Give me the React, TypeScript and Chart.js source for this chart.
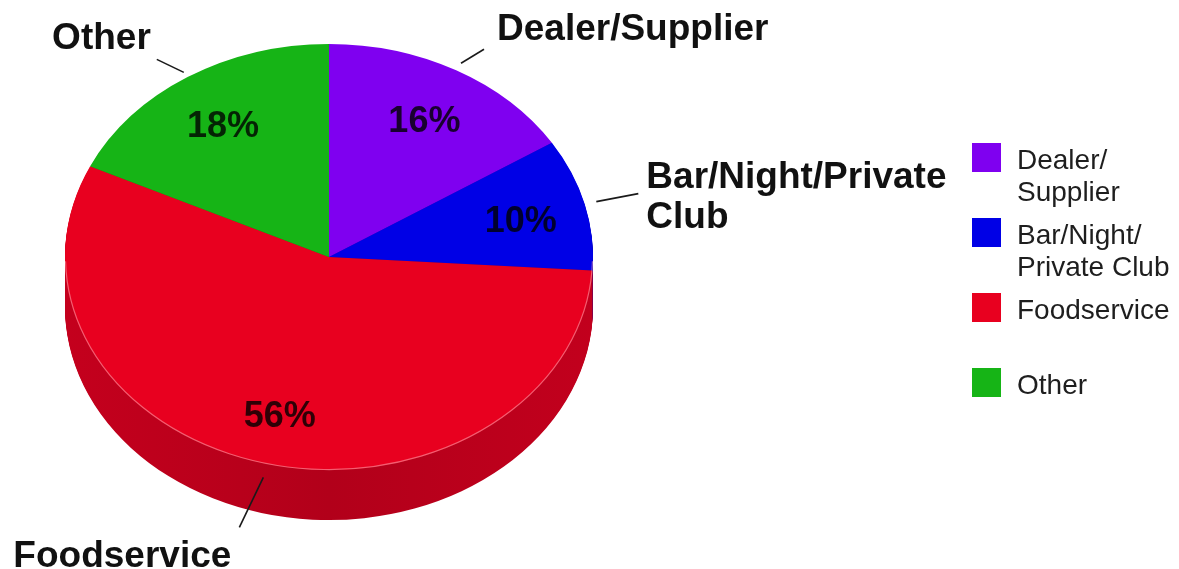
import React, { useEffect, useRef } from "react";
import { Chart, registerables } from "chart.js";

Chart.register(...registerables);

// ---------- data ----------
const categories = ["Dealer/Supplier", "Bar/Night/Private Club", "Foodservice", "Other"];
const shares = [16, 10, 56, 18];
const calloutLabels: string[][] = [["Dealer/Supplier"], ["Bar/Night/Private", "Club"], ["Foodservice"], ["Other"]];
const legendLabels: string[][] = [["Dealer/", "Supplier"], ["Bar/Night/", "Private Club"], ["Foodservice"], ["Other"]];

// ---------- style ----------
const sliceColors = ["#7f00f0", "#0000e6", "#e8001f", "#16b416"];
const sideColors = ["#5c00b0", "#0000a6", "#bc001b", "#0f8a0f"];
const FONT = '"Liberation Sans", Arial, Helvetica, sans-serif';
const TILT = { ratio: 0.807, centerY: 257, depth: 50 };
// leader line / callout placement per slice (style only)
const callouts = [
  { gap: 10, dx: 23, dy: -14, tx: 13, ty: -9, align: "left" as CanvasTextAlign },
  { gap: 12, dx: 42, dy: -8, tx: 8, ty: -6, align: "left" as CanvasTextAlign },
  { gap: 0, dx: -24, dy: 50, tx: -8, ty: 40, align: "right" as CanvasTextAlign, front: 14 },
  { gap: 7, dx: -27, dy: -13, tx: -6, ty: -10, align: "right" as CanvasTextAlign },
];
const LEGEND = { x: 972, top: 143, box: 29, slot: 75, textX: 1017, base: 26, line: 32 };

function tilt(ctx: CanvasRenderingContext2D, cy0: number, extra = 0) {
  ctx.translate(0, TILT.centerY + extra);
  ctx.scale(1, TILT.ratio);
  ctx.translate(0, -cy0);
}

function slicePath(ctx: CanvasRenderingContext2D, el: any) {
  ctx.beginPath();
  ctx.moveTo(el.x, el.y);
  ctx.arc(el.x, el.y, el.outerRadius, el.startAngle, el.endAngle);
  ctx.closePath();
}

function toScreen(el: any, angle: number, r: number, cy = TILT.centerY) {
  return {
    x: el.x + r * Math.cos(angle),
    y: cy + r * Math.sin(angle) * TILT.ratio,
  };
}

const pie3d = {
  id: "pie3d",
  beforeDatasetsDraw(chart: any) {
    const ctx: CanvasRenderingContext2D = chart.ctx;
    const meta = chart.getDatasetMeta(0);
    const els = meta.data;
    if (!els.length) return;
    const cy0 = els[0].y;
    const R = els[0].outerRadius;
    const cx = els[0].x;
    // extruded side
    for (let off = TILT.depth; off >= 1; off--) {
      els.forEach((el: any, i: number) => {
        ctx.save();
        tilt(ctx, cy0, off);
        slicePath(ctx, el);
        if (i === 2) {
          const g = ctx.createLinearGradient(cx - R, 0, cx + R, 0);
          g.addColorStop(0, "#c4001d");
          g.addColorStop(0.5, "#b2001a");
          g.addColorStop(1, "#c2001d");
          ctx.fillStyle = g;
        } else {
          ctx.fillStyle = sideColors[i];
        }
        ctx.fill();
        ctx.restore();
      });
    }
    ctx.save();
    tilt(ctx, cy0);
  },
  afterDatasetsDraw(chart: any) {
    const ctx: CanvasRenderingContext2D = chart.ctx;
    ctx.restore();
    const meta = chart.getDatasetMeta(0);
    const els = meta.data;
    if (!els.length) return;
    const R = els[0].outerRadius;
    const cx = els[0].x;

    // rim highlight
    ctx.save();
    ctx.beginPath();
    ctx.ellipse(cx, TILT.centerY, R - 0.5, R * TILT.ratio - 0.5, 0, 0.02, Math.PI - 0.02);
    ctx.strokeStyle = "rgba(255,170,180,0.55)";
    ctx.lineWidth = 1.2;
    ctx.stroke();
    ctx.restore();

    els.forEach((el: any, i: number) => {
      const mid = (el.startAngle + el.endAngle) / 2;
      // percentage label (centered on cap height)
      const p = toScreen(el, mid, R * 0.75, TILT.centerY + 2);
      ctx.save();
      ctx.font = `bold 36px ${FONT}`;
      ctx.fillStyle = "rgba(0,0,0,0.8)";
      ctx.textAlign = "center";
      ctx.textBaseline = "alphabetic";
      ctx.fillText(`${shares[i]}%`, p.x, p.y + 13);
      ctx.restore();

      // leader line + callout
      const c = callouts[i];
      const s = toScreen(el, mid, R + c.gap);
      s.y += (c as any).front || 0;
      const e = { x: s.x + c.dx, y: s.y + c.dy };
      ctx.save();
      ctx.beginPath();
      ctx.moveTo(s.x, s.y);
      ctx.lineTo(e.x, e.y);
      ctx.strokeStyle = "#1a1a1a";
      ctx.lineWidth = 1.6;
      ctx.stroke();
      ctx.font = `bold 37px ${FONT}`;
      ctx.fillStyle = "#111";
      ctx.textAlign = c.align;
      ctx.textBaseline = "alphabetic";
      calloutLabels[i].forEach((line, j) => {
        ctx.fillText(line, e.x + c.tx, e.y + c.ty + j * 40);
      });
      ctx.restore();
    });

    // legend
    ctx.save();
    ctx.font = `28px ${FONT}`;
    ctx.textAlign = "left";
    ctx.textBaseline = "alphabetic";
    legendLabels.forEach((lines, i) => {
      const top = LEGEND.top + i * LEGEND.slot;
      ctx.fillStyle = sliceColors[i];
      ctx.fillRect(LEGEND.x, top, LEGEND.box, LEGEND.box);
      ctx.fillStyle = "#1e1e1e";
      lines.forEach((t, j) => ctx.fillText(t, LEGEND.textX, top + LEGEND.base + j * LEGEND.line));
    });
    ctx.restore();
  },
};

export default function App() {
  const ref = useRef<HTMLCanvasElement | null>(null);
  useEffect(() => {
    document.body.style.margin = "0";
    const canvas = ref.current!;
    const chart = new Chart(canvas, {
      type: "pie",
      data: {
        labels: categories,
        datasets: [
          {
            data: shares,
            backgroundColor: sliceColors,
            borderWidth: 0,
            hoverOffset: 0,
          },
        ],
      },
      options: {
        responsive: false,
        animation: false,
        events: [],
        layout: { autoPadding: false, padding: { left: 65, right: 586, top: 20, bottom: 21 } },
        plugins: { legend: { display: false }, tooltip: { enabled: false } },
      } as any,
      plugins: [pie3d],
    });
    return () => chart.destroy();
  }, []);
  return (
    <div style={{ width: 1179, height: 569, background: "#fff" }}>
      <canvas ref={ref} width={1179} height={569} style={{ display: "block" }} />
    </div>
  );
}
